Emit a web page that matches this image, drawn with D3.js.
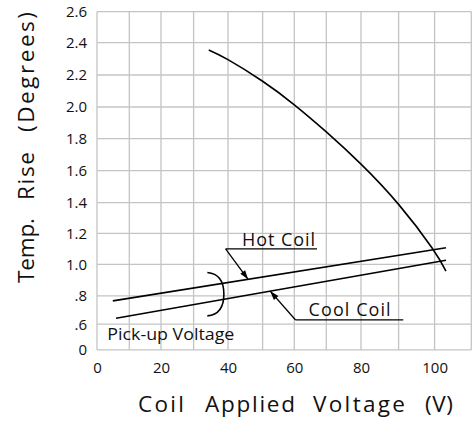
<!DOCTYPE html>
<html>
<head>
<meta charset="utf-8">
<script src="https://cdn.jsdelivr.net/npm/d3@7"></script>
<style>
  html, body { margin: 0; padding: 0; background: #fff; }
  svg { display: block; }
  text { font-family: "Open Sans", "Noto Sans", sans-serif; fill: #111; }
</style>
</head>
<body>
<svg id="chart" width="476" height="422"></svg>
<script>
// ---------------- DATA ----------------
const xTicks = [0, 20, 40, 60, 80, 100];
const xGrid = [0, 10, 20, 30, 40, 50, 60, 70, 80, 90, 100, 110];
const yTicks = [0, 0.6, 0.8, 1.0, 1.2, 1.4, 1.6, 1.8, 2.0, 2.2, 2.4, 2.6];
const yTickLabels = ["0", ".6", ".8", "1.0", "1.2", "1.4", "1.6", "1.8", "2.0", "2.2", "2.4", "2.6"];

// Temperature-rise curve (falls with voltage)
const riseX = [34.4, 40.0, 50.0, 60.0, 70.0, 80.0, 90.0, 99.3, 103.1];
const riseY = [2.355, 2.295, 2.161, 2.014, 1.843, 1.641, 1.389, 1.105, 0.957];

// Pick-up voltage lines
const hotX = [4.9, 103.1];
const hotY = [0.765, 1.107];
const coolX = [5.9, 103.1];
const coolY = [0.642, 1.026];

const xTitleWords = ["Coil", "Applied", "Voltage", "(V)"];
const yTitleWords = ["Temp.", "Rise", "(Degrees)"];
const hotLabel = "Hot Coil";
const coolLabel = "Cool Coil";
const pickLabel = "Pick-up Voltage";

// ---------------- LAYOUT ----------------
const plotLeft = 97, plotTop = 11.7;
// relative spacing of grid lines (as printed on the original sheet)
const xGaps = [32.3, 31.7, 32.6, 34.4, 34.6, 31.7, 32.0, 34.7, 37.6, 36.0, 36.7];
const yGaps = [25.7, 28.3, 31.6, 31.0, 30.6, 32.0, 32.0, 31.7, 32.0, 32.3, 31.0]; // bottom -> top

const xRange = [plotLeft];
xGaps.forEach(g => xRange.push(xRange[xRange.length - 1] + g));
const plotBottom = plotTop + d3.sum(yGaps);
const yRange = [plotBottom];
yGaps.forEach(g => yRange.push(yRange[yRange.length - 1] - g));

const x = d3.scaleLinear().domain(xGrid).range(xRange);
const y = d3.scaleLinear().domain(yTicks).range(yRange);
const plotRight = x(110);

const svg = d3.select("#chart");

// ---------------- GRID ----------------
const grid = svg.append("g").attr("stroke", "#c4c4c4").attr("stroke-width", 1.3);
grid.selectAll("line.v").data(xGrid).join("line").attr("class", "v")
  .attr("x1", d => x(d)).attr("x2", d => x(d))
  .attr("y1", plotTop).attr("y2", plotBottom);
grid.selectAll("line.h").data(yTicks).join("line").attr("class", "h")
  .attr("y1", d => y(d)).attr("y2", d => y(d))
  .attr("x1", plotLeft).attr("x2", plotRight);

// ---------------- AXES (labels only) ----------------
const yAxis = d3.axisLeft(y).tickValues(yTicks)
  .tickFormat((d, i) => yTickLabels[i]).tickSize(0).tickPadding(10);
const gy = svg.append("g").attr("transform", `translate(${plotLeft},0)`).call(yAxis);
gy.select(".domain").remove();
gy.selectAll("text").attr("font-size", 15).attr("fill", "#111")
  .attr("font-family", "'Open Sans', sans-serif");

const xAxis = d3.axisBottom(x).tickValues(xTicks).tickSize(0).tickPadding(12);
const gx = svg.append("g").attr("transform", `translate(0,${plotBottom})`).call(xAxis);
gx.select(".domain").remove();
gx.selectAll("text").attr("font-size", 15).attr("fill", "#111")
  .attr("font-family", "'Open Sans', sans-serif");

// ---------------- LINES ----------------
const curveLine = d3.line().x(d => x(d[0])).y(d => y(d[1])).curve(d3.curveNatural);
svg.append("path")
  .datum(riseX.map((v, i) => [v, riseY[i]]))
  .attr("d", curveLine)
  .attr("fill", "none").attr("stroke", "#000").attr("stroke-width", 1.6);

const straight = d3.line().x(d => x(d[0])).y(d => y(d[1]));
[[hotX, hotY], [coolX, coolY]].forEach(([xs, ys]) => {
  svg.append("path")
    .datum(xs.map((v, i) => [v, ys[i]]))
    .attr("d", straight)
    .attr("fill", "none").attr("stroke", "#000").attr("stroke-width", 1.6);
});

// point on a straight series at a given x value (pixel space)
function onLine(xs, ys, xv) {
  const p0 = [x(xs[0]), y(ys[0])], p1 = [x(xs[1]), y(ys[1])];
  const t = (x(xv) - p0[0]) / (p1[0] - p0[0]);
  return [x(xv), p0[1] + t * (p1[1] - p0[1])];
}

// arrow with filled head
function arrow(from, to) {
  svg.append("line").attr("x1", from[0]).attr("y1", from[1])
    .attr("x2", to[0]).attr("y2", to[1])
    .attr("stroke", "#000").attr("stroke-width", 1.3);
  const ang = Math.atan2(to[1] - from[1], to[0] - from[0]);
  const L = 9, W = 3;
  const bx = to[0] - L * Math.cos(ang), by = to[1] - L * Math.sin(ang);
  const px = -Math.sin(ang) * W, py = Math.cos(ang) * W;
  svg.append("path")
    .attr("d", `M${to[0]},${to[1]}L${bx + px},${by + py}L${bx - px},${by - py}Z`)
    .attr("fill", "#000");
}

// Hot coil annotation
const hotUL = [x(39.3), y(1.099)], hotUR = [x(67.1), y(1.099)];
svg.append("line").attr("x1", hotUL[0]).attr("x2", hotUR[0])
  .attr("y1", hotUL[1]).attr("y2", hotUR[1]).attr("stroke", "#000").attr("stroke-width", 1.3);
svg.append("text").attr("x", hotUL[0] + 16.5).attr("y", hotUL[1] - 2.5)
  .attr("font-size", 18).attr("textLength", 73).attr("lengthAdjust", "spacing")
  .text(hotLabel);
arrow(hotUL, onLine(hotX, hotY, 45.8));

// Cool coil annotation
const coolUL = [x(60.4), y(0.630)], coolUR = [x(91.3), y(0.630)];
svg.append("line").attr("x1", coolUL[0]).attr("x2", coolUR[0])
  .attr("y1", coolUL[1]).attr("y2", coolUR[1]).attr("stroke", "#000").attr("stroke-width", 1.3);
svg.append("text").attr("x", coolUL[0] + 13).attr("y", coolUL[1] - 4)
  .attr("font-size", 18).attr("textLength", 82).attr("lengthAdjust", "spacing")
  .text(coolLabel);
arrow(coolUL, onLine(coolX, coolY, 52.4));

// Bracket ")"
const bx0 = x(34.0), bx1 = x(38.8), byT = y(0.948), byB = y(0.659), byM = (byT + byB) / 2;
svg.append("path")
  .attr("d", `M${bx0},${byT} C${bx0 + 11},${byT + 1} ${bx1},${byT + 9} ${bx1},${byM} C${bx1},${byB - 9} ${bx0 + 11},${byB - 1} ${bx0},${byB}`)
  .attr("fill", "none").attr("stroke", "#000").attr("stroke-width", 1.6);

// Pick-up voltage text
svg.append("text").attr("x", x(3.2)).attr("y", plotBottom - 9.5)
  .attr("font-size", 16).attr("textLength", 127).attr("lengthAdjust", "spacingAndGlyphs")
  .text(pickLabel);

// ---------------- TITLES ----------------
// word start positions / widths along each title (layout)
const xTitleStart = [138, 205, 313, 425], xTitleLen = [46, 90, 92, 28];
svg.append("g").selectAll("text").data(xTitleWords).join("text")
  .attr("x", (d, i) => xTitleStart[i]).attr("y", 412)
  .attr("font-size", 22.5)
  .attr("textLength", (d, i) => xTitleLen[i]).attr("lengthAdjust", "spacing")
  .text(d => d);

const yTitleStart = [283, 200, 132], yTitleLen = [65, 48, 120];
svg.append("g").attr("transform", "translate(34,0)")
  .selectAll("text").data(yTitleWords).join("text")
  .attr("transform", (d, i) => `translate(0,${yTitleStart[i]}) rotate(-90)`)
  .attr("font-size", 22.5)
  .attr("textLength", (d, i) => yTitleLen[i]).attr("lengthAdjust", "spacing")
  .text(d => d);
</script>
</body>
</html>
